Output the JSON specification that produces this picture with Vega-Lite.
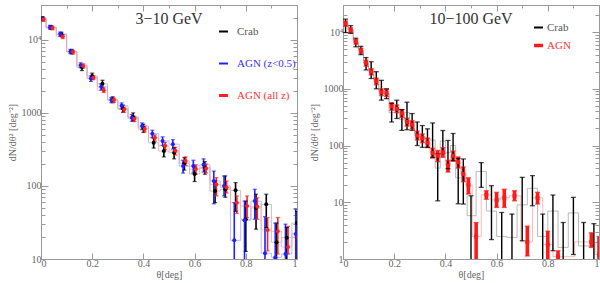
{
  "$schema": "https://vega.github.io/schema/vega-lite/v6.json",
  "padding": {"left": 6, "right": 1, "top": 4, "bottom": 0},
  "spacing": 7,
  "datasets": {
    "L": [
      {"s":"Crab","c":0,"x":0.006,"y":19500,"lo":18300,"hi":20800},
      {"s":"AGN (z<0.5)","c":0,"x":0.002,"y":19500,"lo":18300,"hi":20800},
      {"s":"AGN (all z)","c":0,"x":0.010,"y":19000,"lo":17900,"hi":20200},
      {"s":"Crab","c":0.04,"x":0.04,"y":14800,"lo":13900,"hi":15700},
      {"s":"AGN (z<0.5)","c":0.04,"x":0.035,"y":14900,"lo":14000,"hi":15800},
      {"s":"AGN (all z)","c":0.04,"x":0.045,"y":14500,"lo":13700,"hi":15400},
      {"s":"Crab","c":0.08,"x":0.08,"y":11800,"lo":11000,"hi":12700},
      {"s":"AGN (z<0.5)","c":0.08,"x":0.075,"y":12000,"lo":11200,"hi":12800},
      {"s":"AGN (all z)","c":0.08,"x":0.085,"y":11100,"lo":10400,"hi":11800},
      {"s":"Crab","c":0.12,"x":0.12,"y":6900,"lo":6400,"hi":7400},
      {"s":"AGN (z<0.5)","c":0.12,"x":0.115,"y":6950,"lo":6500,"hi":7400},
      {"s":"AGN (all z)","c":0.12,"x":0.125,"y":6800,"lo":6400,"hi":7200},
      {"s":"Crab","c":0.16,"x":0.16,"y":4200,"lo":3800,"hi":4600},
      {"s":"AGN (z<0.5)","c":0.16,"x":0.155,"y":4500,"lo":4150,"hi":4850},
      {"s":"AGN (all z)","c":0.16,"x":0.165,"y":4400,"lo":4100,"hi":4700},
      {"s":"Crab","c":0.2,"x":0.2,"y":3200,"lo":2900,"hi":3500},
      {"s":"AGN (z<0.5)","c":0.2,"x":0.195,"y":2950,"lo":2700,"hi":3200},
      {"s":"AGN (all z)","c":0.2,"x":0.205,"y":3050,"lo":2850,"hi":3250},
      {"s":"Crab","c":0.24,"x":0.24,"y":2500,"lo":2200,"hi":2800},
      {"s":"AGN (z<0.5)","c":0.24,"x":0.235,"y":2280,"lo":2050,"hi":2500},
      {"s":"AGN (all z)","c":0.24,"x":0.245,"y":2050,"lo":1900,"hi":2200},
      {"s":"Crab","c":0.28,"x":0.28,"y":1520,"lo":1380,"hi":1660},
      {"s":"AGN (z<0.5)","c":0.28,"x":0.275,"y":1500,"lo":1380,"hi":1620},
      {"s":"AGN (all z)","c":0.28,"x":0.285,"y":1500,"lo":1400,"hi":1600},
      {"s":"Crab","c":0.32,"x":0.32,"y":1150,"lo":1020,"hi":1280},
      {"s":"AGN (z<0.5)","c":0.32,"x":0.315,"y":1250,"lo":1130,"hi":1370},
      {"s":"AGN (all z)","c":0.32,"x":0.325,"y":1110,"lo":1020,"hi":1200},
      {"s":"Crab","c":0.36,"x":0.36,"y":880,"lo":770,"hi":1000},
      {"s":"AGN (z<0.5)","c":0.36,"x":0.355,"y":860,"lo":770,"hi":950},
      {"s":"AGN (all z)","c":0.36,"x":0.365,"y":830,"lo":760,"hi":900},
      {"s":"Crab","c":0.4,"x":0.4,"y":620,"lo":540,"hi":700},
      {"s":"AGN (z<0.5)","c":0.4,"x":0.395,"y":660,"lo":590,"hi":730},
      {"s":"AGN (all z)","c":0.4,"x":0.405,"y":600,"lo":550,"hi":660},
      {"s":"Crab","c":0.44,"x":0.44,"y":390,"lo":330,"hi":450},
      {"s":"AGN (z<0.5)","c":0.44,"x":0.435,"y":520,"lo":460,"hi":580},
      {"s":"AGN (all z)","c":0.44,"x":0.445,"y":456,"lo":410,"hi":500},
      {"s":"Crab","c":0.48,"x":0.48,"y":300,"lo":250,"hi":350},
      {"s":"AGN (z<0.5)","c":0.48,"x":0.475,"y":413,"lo":360,"hi":470},
      {"s":"AGN (all z)","c":0.48,"x":0.485,"y":354,"lo":315,"hi":395},
      {"s":"Crab","c":0.52,"x":0.52,"y":285,"lo":235,"hi":335},
      {"s":"AGN (z<0.5)","c":0.52,"x":0.515,"y":373,"lo":320,"hi":430},
      {"s":"AGN (all z)","c":0.52,"x":0.525,"y":303,"lo":265,"hi":340},
      {"s":"Crab","c":0.56,"x":0.56,"y":205,"lo":165,"hi":245},
      {"s":"AGN (z<0.5)","c":0.56,"x":0.555,"y":187,"lo":150,"hi":225},
      {"s":"AGN (all z)","c":0.56,"x":0.565,"y":220,"lo":190,"hi":250},
      {"s":"Crab","c":0.6,"x":0.6,"y":146,"lo":115,"hi":180},
      {"s":"AGN (z<0.5)","c":0.6,"x":0.595,"y":187,"lo":150,"hi":225},
      {"s":"AGN (all z)","c":0.6,"x":0.605,"y":170,"lo":145,"hi":195},
      {"s":"Crab","c":0.64,"x":0.64,"y":180,"lo":145,"hi":215},
      {"s":"AGN (z<0.5)","c":0.64,"x":0.635,"y":195,"lo":155,"hi":235},
      {"s":"AGN (all z)","c":0.64,"x":0.645,"y":174,"lo":150,"hi":200},
      {"s":"Crab","c":0.68,"x":0.68,"y":85,"lo":59,"hi":117},
      {"s":"AGN (z<0.5)","c":0.68,"x":0.675,"y":117,"lo":57,"hi":160},
      {"s":"AGN (all z)","c":0.68,"x":0.685,"y":105,"lo":73,"hi":130},
      {"s":"Crab","c":0.72,"x":0.72,"y":90,"lo":70,"hi":137},
      {"s":"AGN (z<0.5)","c":0.72,"x":0.715,"y":100,"lo":73,"hi":137},
      {"s":"AGN (all z)","c":0.72,"x":0.725,"y":95,"lo":80,"hi":117},
      {"s":"Crab","c":0.76,"x":0.76,"y":87,"lo":45,"hi":111},
      {"s":"AGN (z<0.5)","c":0.76,"x":0.755,"y":18,"lo":1,"hi":59},
      {"s":"AGN (all z)","c":0.76,"x":0.765,"y":59,"lo":42,"hi":73},
      {"s":"Crab","c":0.8,"x":0.8,"y":35,"lo":12.7,"hi":62},
      {"s":"AGN (z<0.5)","c":0.8,"x":0.795,"y":34,"lo":1,"hi":62},
      {"s":"AGN (all z)","c":0.8,"x":0.805,"y":53,"lo":37,"hi":73},
      {"s":"Crab","c":0.84,"x":0.84,"y":50,"lo":25.6,"hi":77},
      {"s":"AGN (z<0.5)","c":0.84,"x":0.835,"y":62,"lo":35,"hi":90},
      {"s":"AGN (all z)","c":0.84,"x":0.845,"y":52,"lo":35,"hi":69},
      {"s":"Crab","c":0.88,"x":0.88,"y":56,"lo":27,"hi":77},
      {"s":"AGN (z<0.5)","c":0.88,"x":0.875,"y":12,"lo":1,"hi":38},
      {"s":"AGN (all z)","c":0.88,"x":0.885,"y":25,"lo":12.9,"hi":37},
      {"s":"Crab","c":0.92,"x":0.92,"y":17,"lo":1,"hi":31},
      {"s":"AGN (z<0.5)","c":0.92,"x":0.915,"y":10.5,"lo":1,"hi":31},
      {"s":"AGN (all z)","c":0.92,"x":0.925,"y":24,"lo":11.7,"hi":37},
      {"s":"Crab","c":0.96,"x":0.96,"y":19.6,"lo":1,"hi":27},
      {"s":"AGN (z<0.5)","c":0.96,"x":0.955,"y":11.7,"lo":1,"hi":30},
      {"s":"AGN (all z)","c":0.96,"x":0.965,"y":14.6,"lo":11.7,"hi":28},
      {"s":"Crab","c":1.0,"x":1.0,"y":31,"lo":1,"hi":45},
      {"s":"AGN (z<0.5)","c":1.0,"x":0.995,"y":22,"lo":1,"hi":48},
      {"s":"AGN (all z)","c":1.0,"x":1.005,"y":20,"lo":8,"hi":30}
    ],
    "R": [
      {"s":"AGN","x":0.01,"y":14100,"lo":12600,"hi":15600},
      {"s":"AGN","x":0.03,"y":10800,"lo":9800,"hi":11900},
      {"s":"AGN","x":0.05,"y":6750,"lo":6100,"hi":7400},
      {"s":"AGN","x":0.07,"y":4700,"lo":4200,"hi":5200},
      {"s":"AGN","x":0.09,"y":2850,"lo":2500,"hi":3200},
      {"s":"AGN","x":0.11,"y":2000,"lo":1750,"hi":2250},
      {"s":"AGN","x":0.13,"y":1360,"lo":1180,"hi":1550},
      {"s":"AGN","x":0.15,"y":875,"lo":760,"hi":1000},
      {"s":"AGN","x":0.17,"y":850,"lo":730,"hi":980},
      {"s":"AGN","x":0.19,"y":490,"lo":420,"hi":570},
      {"s":"AGN","x":0.21,"y":445,"lo":380,"hi":520},
      {"s":"AGN","x":0.23,"y":370,"lo":310,"hi":430},
      {"s":"AGN","x":0.25,"y":260,"lo":220,"hi":305},
      {"s":"AGN","x":0.27,"y":233,"lo":195,"hi":275},
      {"s":"AGN","x":0.29,"y":150,"lo":125,"hi":180},
      {"s":"AGN","x":0.31,"y":135,"lo":112,"hi":160},
      {"s":"AGN","x":0.33,"y":112,"lo":92,"hi":135},
      {"s":"AGN","x":0.35,"y":74,"lo":60,"hi":90},
      {"s":"AGN","x":0.37,"y":66,"lo":52,"hi":82},
      {"s":"AGN","x":0.39,"y":76,"lo":62,"hi":92},
      {"s":"AGN","x":0.41,"y":44,"lo":34,"hi":55},
      {"s":"AGN","x":0.43,"y":66,"lo":53,"hi":80},
      {"s":"AGN","x":0.45,"y":51,"lo":40,"hi":63},
      {"s":"AGN","x":0.47,"y":31.6,"lo":23,"hi":42},
      {"s":"AGN","x":0.49,"y":20,"lo":14,"hi":27},
      {"s":"AGN","x":0.52,"y":2.5,"lo":0.5,"hi":4.4},
      {"s":"AGN","x":0.56,"y":13.5,"lo":11.3,"hi":16},
      {"s":"AGN","x":0.6,"y":11,"lo":8.1,"hi":15},
      {"s":"AGN","x":0.63,"y":12,"lo":8.1,"hi":17},
      {"s":"AGN","x":0.67,"y":13,"lo":10.6,"hi":16},
      {"s":"AGN","x":0.72,"y":2,"lo":1.13,"hi":3.8},
      {"s":"AGN","x":0.76,"y":12,"lo":9.3,"hi":15},
      {"s":"AGN","x":0.8,"y":1.8,"lo":0.5,"hi":3.1},
      {"s":"AGN","x":0.84,"y":1.1,"lo":0.5,"hi":1.4},
      {"s":"AGN","x":0.97,"y":2.0,"lo":1.6,"hi":2.9},
      {"s":"AGN","x":1.0,"y":1.2,"lo":0.5,"hi":2.5},
      {"s":"Crab","x":0.01,"y":12500,"lo":9800,"hi":16900},
      {"s":"Crab","x":0.03,"y":11000,"lo":9500,"hi":13000},
      {"s":"Crab","x":0.05,"y":6600,"lo":5500,"hi":7800},
      {"s":"Crab","x":0.07,"y":4800,"lo":4000,"hi":5600},
      {"s":"Crab","x":0.09,"y":2800,"lo":2150,"hi":3550},
      {"s":"Crab","x":0.11,"y":2300,"lo":1520,"hi":3000},
      {"s":"Crab","x":0.13,"y":1450,"lo":1000,"hi":2000},
      {"s":"Crab","x":0.15,"y":950,"lo":630,"hi":1410},
      {"s":"Crab","x":0.17,"y":820,"lo":670,"hi":1000},
      {"s":"Crab","x":0.19,"y":380,"lo":260,"hi":550},
      {"s":"Crab","x":0.21,"y":440,"lo":300,"hi":630},
      {"s":"Crab","x":0.23,"y":290,"lo":185,"hi":430},
      {"s":"Crab","x":0.25,"y":380,"lo":190,"hi":580},
      {"s":"Crab","x":0.27,"y":260,"lo":185,"hi":366},
      {"s":"Crab","x":0.29,"y":160,"lo":100,"hi":260},
      {"s":"Crab","x":0.31,"y":145,"lo":93,"hi":225},
      {"s":"Crab","x":0.33,"y":135,"lo":93,"hi":197},
      {"s":"Crab","x":0.35,"y":125,"lo":62,"hi":250},
      {"s":"Crab","x":0.37,"y":40,"lo":10.6,"hi":71},
      {"s":"Crab","x":0.39,"y":120,"lo":72,"hi":184},
      {"s":"Crab","x":0.41,"y":75,"lo":39,"hi":123},
      {"s":"Crab","x":0.43,"y":100,"lo":54,"hi":163},
      {"s":"Crab","x":0.45,"y":27,"lo":9.4,"hi":59},
      {"s":"Crab","x":0.47,"y":27,"lo":9.3,"hi":58},
      {"s":"Crab","x":0.5,"y":5.8,"lo":0.5,"hi":13},
      {"s":"Crab","x":0.54,"y":35,"lo":18.3,"hi":50},
      {"s":"Crab","x":0.58,"y":7,"lo":2.2,"hi":19.6},
      {"s":"Crab","x":0.62,"y":2.5,"lo":0.5,"hi":6.6},
      {"s":"Crab","x":0.66,"y":2.4,"lo":0.5,"hi":6.2},
      {"s":"Crab","x":0.7,"y":9,"lo":2.1,"hi":27.5},
      {"s":"Crab","x":0.74,"y":17.6,"lo":8.7,"hi":29.5},
      {"s":"Crab","x":0.78,"y":2.5,"lo":0.5,"hi":6.2},
      {"s":"Crab","x":0.82,"y":7,"lo":1.4,"hi":13.4},
      {"s":"Crab","x":0.86,"y":1.6,"lo":0.5,"hi":4.4},
      {"s":"Crab","x":0.9,"y":6.5,"lo":1.2,"hi":12.2},
      {"s":"Crab","x":0.94,"y":1.7,"lo":0.5,"hi":4.4},
      {"s":"Crab","x":0.98,"y":1.7,"lo":0.5,"hi":4.2}
    ]
  },
  "hconcat": [
    {
      "width": 256, "height": 254,
      "data": {"name": "L"},
      "title": {"text": "3−10 GeV", "anchor": "middle", "offset": -22, "fontSize": 16, "fontWeight": "normal", "color": "#333", "font": "Liberation Serif"},
      "layer": [
        {
          "layer": [
            {
              "mark": {"type": "line", "interpolate": "step", "clip": true, "strokeWidth": 0.8},
              "encoding": {
                "x": {"field": "c", "type": "quantitative", "scale": {"domain": [0, 1], "nice": false},
                  "axis": {"title": "θ[deg]", "values": [0,0.1,0.2,0.3,0.4,0.5,0.6,0.7,0.8,0.9,1], "labelFlush": true, "labelPadding": 5, "titlePadding": 1,
                    "labelExpr": "round(datum.value*10)%2==0 ? (datum.value==0 ? '0' : datum.value==1 ? '1' : format(datum.value,'.1f')) : ''",
                    "tickSize": {"condition": {"test": "round(datum.value*10)%2==0", "value": -6}, "value": -3}}},
                "y": {"field": "y", "type": "quantitative", "scale": {"type": "log", "domain": [10, 30000], "nice": false},
                  "axis": {"title": "dN/dθ² [deg⁻²]", "labelPadding": 7,
                    "values": [10,20,30,40,50,60,70,80,90,100,200,300,400,500,600,700,800,900,1000,2000,3000,4000,5000,6000,7000,8000,9000,10000,20000],
                    "labelExpr": "datum.value==10000 ? '10⁴' : (indexof([10,100,1000],datum.value)>=0 ? format(datum.value,'d') : '')",
                    "tickSize": {"condition": {"test": "indexof([10,100,1000,10000],datum.value)>=0", "value": -7}, "value": -4}}},
                "stroke": {"field": "s", "type": "nominal", "legend": null,
                  "scale": {"domain": ["AGN (all z)", "AGN (z<0.5)", "Crab"], "range": ["#ffa8a8", "#a8a8ff", "#b4b4b4"]}}
              }
            },
            {
              "mark": {"type": "rule", "clip": true, "strokeWidth": 1.6},
              "encoding": {
                "x": {"field": "x", "type": "quantitative"},
                "y": {"field": "lo", "type": "quantitative"},
                "y2": {"field": "hi"},
                "color": {"field": "s", "type": "nominal",
                  "scale": {"domain": ["Crab", "AGN (z<0.5)", "AGN (all z)"], "range": ["#000000", "#2020ff", "#ff2020"]},
                  "legend": {"title": null, "orient": "none", "legendX": 177, "legendY": 21, "padding": 0, "symbolType": "stroke", "symbolSize": 80,
                    "symbolStrokeWidth": 2, "rowPadding": 20, "labelFontSize": 11, "labelFont": "Liberation Serif", "labelOffset": 8,
                    "encode": {"labels": {"update": {"fill": {"signal": "datum.value=='Crab' ? '#555555' : datum.value=='AGN (z<0.5)' ? '#3333ff' : '#ff3333'"}}},
                      "symbols": {"update": {"strokeWidth": {"signal": "datum.value=='AGN (all z)' ? 3 : 2"}}}}}}
              }
            },
            {
              "mark": {"type": "tick", "orient": "horizontal", "clip": true, "size": 4, "thickness": 1.2},
              "encoding": {
                "x": {"field": "x", "type": "quantitative"},
                "y": {"field": "lo", "type": "quantitative"},
                "color": {"field": "s", "type": "nominal"}
              }
            },
            {
              "mark": {"type": "tick", "orient": "horizontal", "clip": true, "size": 4, "thickness": 1.2},
              "encoding": {
                "x": {"field": "x", "type": "quantitative"},
                "y": {"field": "hi", "type": "quantitative"},
                "color": {"field": "s", "type": "nominal"}
              }
            },
            {
              "mark": {"type": "circle", "clip": true, "size": 16, "opacity": 1},
              "encoding": {
                "x": {"field": "x", "type": "quantitative"},
                "y": {"field": "y", "type": "quantitative"},
                "color": {"field": "s", "type": "nominal"}
              }
            }
          ]
        },
        {
          "mark": {"type": "point", "opacity": 0},
          "encoding": {
            "x": {"field": "c", "type": "quantitative",
              "axis": {"orient": "top", "labels": false, "title": null, "values": [0,0.1,0.2,0.3,0.4,0.5,0.6,0.7,0.8,0.9,1],
                "tickSize": {"condition": {"test": "round(datum.value*10)%2==0", "value": -6}, "value": -3}}},
            "y": {"field": "y", "type": "quantitative",
              "axis": {"orient": "right", "labels": false, "title": null,
                "values": [10,20,30,40,50,60,70,80,90,100,200,300,400,500,600,700,800,900,1000,2000,3000,4000,5000,6000,7000,8000,9000,10000,20000],
                "tickSize": {"condition": {"test": "indexof([10,100,1000,10000],datum.value)>=0", "value": -7}, "value": -4}}}
          }
        }
      ],
      "resolve": {"axis": {"x": "independent", "y": "independent"}}
    },
    {
      "width": 256, "height": 254,
      "data": {"name": "R"},
      "title": {"text": "10−100 GeV", "anchor": "middle", "offset": -22, "fontSize": 16, "fontWeight": "normal", "color": "#333", "font": "Liberation Serif"},
      "layer": [
        {
          "layer": [
            {
              "mark": {"type": "line", "interpolate": "step", "clip": true, "strokeWidth": 0.8},
              "encoding": {
                "x": {"field": "x", "type": "quantitative", "scale": {"domain": [0, 1], "nice": false},
                  "axis": {"title": "θ[deg]", "values": [0,0.1,0.2,0.3,0.4,0.5,0.6,0.7,0.8,0.9,1], "labelFlush": true, "labelPadding": 5, "titlePadding": 1,
                    "labelExpr": "round(datum.value*10)%2==0 ? (datum.value==0 ? '0' : datum.value==1 ? '1' : format(datum.value,'.1f')) : ''",
                    "tickSize": {"condition": {"test": "round(datum.value*10)%2==0", "value": -6}, "value": -3}}},
                "y": {"field": "y", "type": "quantitative", "scale": {"type": "log", "domain": [1, 30000], "nice": false},
                  "axis": {"title": "dN/dθ² [deg⁻²]", "labelPadding": 7,
                    "values": [1,2,3,4,5,6,7,8,9,10,20,30,40,50,60,70,80,90,100,200,300,400,500,600,700,800,900,1000,2000,3000,4000,5000,6000,7000,8000,9000,10000,20000],
                    "labelExpr": "datum.value==10000 ? '10⁴' : (indexof([1,10,100,1000],datum.value)>=0 ? format(datum.value,'d') : '')",
                    "tickSize": {"condition": {"test": "indexof([1,10,100,1000,10000],datum.value)>=0", "value": -7}, "value": -4}}},
                "stroke": {"field": "s", "type": "nominal", "legend": null,
                  "scale": {"domain": ["AGN", "Crab"], "range": ["#ffa8a8", "#a8a8a8"]}}
              }
            },
            {
              "mark": {"type": "rule", "clip": true},
              "encoding": {
                "x": {"field": "x", "type": "quantitative"},
                "y": {"field": "lo", "type": "quantitative"},
                "y2": {"field": "hi"},
                "strokeWidth": {"field": "s", "type": "nominal", "legend": null, "scale": {"domain": ["AGN", "Crab"], "range": [3.6, 1.4]}},
                "color": {"field": "s", "type": "nominal",
                  "scale": {"domain": ["Crab", "AGN"], "range": ["#000000", "#ff1a1a"]},
                  "legend": {"title": null, "orient": "none", "legendX": 190, "legendY": 17, "padding": 0, "symbolType": "stroke", "symbolSize": 80,
                    "symbolStrokeWidth": 2, "rowPadding": 5, "labelFontSize": 11, "labelFont": "Liberation Serif", "labelOffset": 3,
                    "encode": {"labels": {"update": {"fill": {"signal": "datum.value=='Crab' ? '#555555' : '#ff3333'"}}},
                      "symbols": {"update": {"strokeWidth": {"signal": "datum.value=='AGN' ? 3.5 : 2"}}}}}}
              }
            },
            {
              "mark": {"type": "tick", "orient": "horizontal", "clip": true, "size": 5, "thickness": 1.3},
              "encoding": {
                "x": {"field": "x", "type": "quantitative"},
                "y": {"field": "lo", "type": "quantitative"},
                "color": {"field": "s", "type": "nominal"}
              }
            },
            {
              "mark": {"type": "tick", "orient": "horizontal", "clip": true, "size": 5, "thickness": 1.3},
              "encoding": {
                "x": {"field": "x", "type": "quantitative"},
                "y": {"field": "hi", "type": "quantitative"},
                "color": {"field": "s", "type": "nominal"}
              }
            },
            {
              "transform": [{"filter": "datum.s == 'AGN'"}],
              "mark": {"type": "square", "clip": true, "size": 16, "opacity": 1},
              "encoding": {
                "x": {"field": "x", "type": "quantitative"},
                "y": {"field": "y", "type": "quantitative"},
                "color": {"field": "s", "type": "nominal"}
              }
            }
          ]
        },
        {
          "mark": {"type": "point", "opacity": 0},
          "encoding": {
            "x": {"field": "x", "type": "quantitative",
              "axis": {"orient": "top", "labels": false, "title": null, "values": [0,0.1,0.2,0.3,0.4,0.5,0.6,0.7,0.8,0.9,1],
                "tickSize": {"condition": {"test": "round(datum.value*10)%2==0", "value": -6}, "value": -3}}},
            "y": {"field": "y", "type": "quantitative",
              "axis": {"orient": "right", "labels": false, "title": null,
                "values": [1,2,3,4,5,6,7,8,9,10,20,30,40,50,60,70,80,90,100,200,300,400,500,600,700,800,900,1000,2000,3000,4000,5000,6000,7000,8000,9000,10000,20000],
                "tickSize": {"condition": {"test": "indexof([1,10,100,1000,10000],datum.value)>=0", "value": -7}, "value": -4}}}
          }
        }
      ],
      "resolve": {"axis": {"x": "independent", "y": "independent"}}
    }
  ],
  "resolve": {"scale": {"x": "independent", "y": "independent", "color": "independent", "stroke": "independent", "strokeWidth": "independent"}},
  "config": {
    "font": "Liberation Serif",
    "view": {"stroke": "#999999", "strokeWidth": 1},
    "axis": {"grid": false, "domainColor": "#999999", "tickColor": "#999999", "labelColor": "#666666", "titleColor": "#666666",
      "labelFont": "Liberation Serif", "titleFont": "Liberation Serif", "labelFontSize": 10, "titleFontSize": 10, "titleFontWeight": "normal"}
  }
}
